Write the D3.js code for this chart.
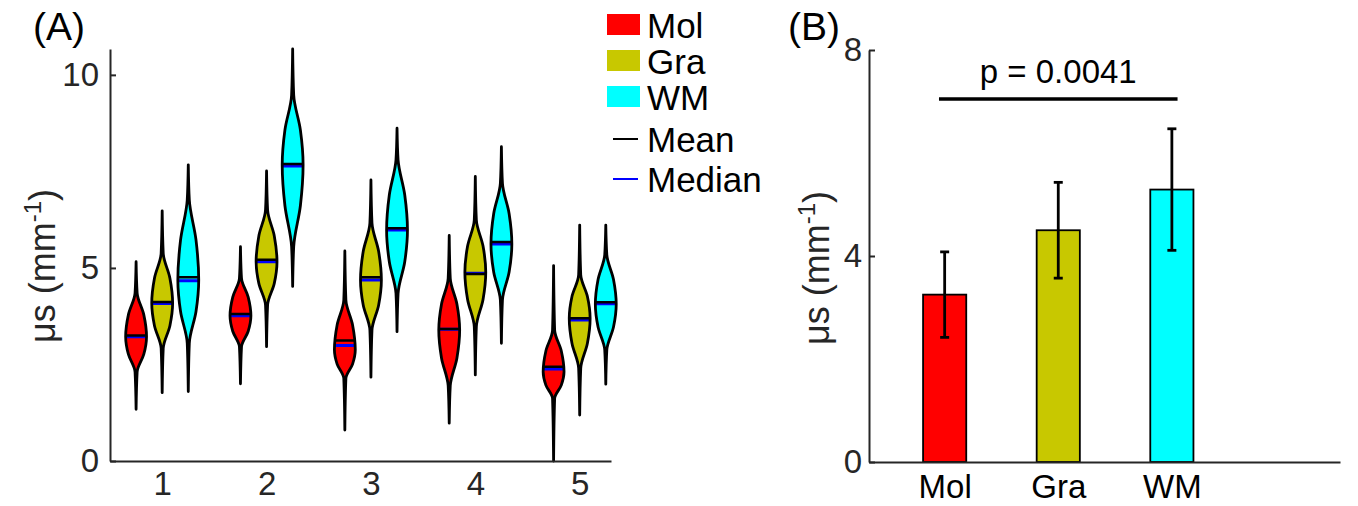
<!DOCTYPE html>
<html lang="en">
<head>
<meta charset="UTF-8">
<title>mu_s violins and bars</title>
<script src="https://cdn.jsdelivr.net/npm/d3@7"></script>
<style>
  body { margin: 0; background: #fff; }
  svg { display: block; font-family: "Liberation Sans", Arial, sans-serif; }
</style>
</head>
<body>
<div id="chart"></div>
<script>
// ---- data ----
const groups = [1, 2, 3, 4, 5];
const tissues = ["Mol", "Gra", "WM"];
const colors = ["#ff0000", "#c8c800", "#00ffff"];

// violin outlines per tissue: tail min, body bottom, widest point, body top, tail max
const violinMin = [
  [1.34, 2.00, 0.80, 0.98, 0.00],
  [1.77, 2.96, 2.17, 2.23, 1.19],
  [1.80, 4.52, 3.35, 3.05, 1.99]
];
const violinLo = [
  [2.31, 2.96, 2.14, 1.95, 1.62],
  [2.92, 4.04, 3.39, 3.48, 2.40],
  [3.05, 5.55, 4.34, 4.17, 2.88]
];
const violinPeak = [
  [3.22, 3.76, 2.88, 3.39, 2.31],
  [4.09, 5.16, 4.69, 4.89, 3.70],
  [4.69, 7.67, 5.98, 5.62, 4.06]
];
const violinHi = [
  [4.35, 4.73, 4.17, 4.73, 3.39],
  [5.38, 6.50, 6.16, 6.24, 4.82],
  [6.76, 9.48, 7.80, 7.19, 5.34]
];
const violinMax = [
  [5.16, 5.55, 5.44, 5.84, 5.06],
  [6.48, 7.51, 7.28, 7.37, 6.11],
  [7.67, 10.67, 8.62, 8.14, 6.11]
];
const violinMean = [
  [3.25, 3.81, 3.12, 3.42, 2.44],
  [4.12, 5.21, 4.76, 4.84, 3.70],
  [4.76, 7.69, 6.03, 5.67, 4.11]
];
const violinMedian = [
  [3.22, 3.76, 2.99, 3.41, 2.38],
  [4.08, 5.16, 4.69, 4.86, 3.65],
  [4.67, 7.64, 5.98, 5.62, 4.07]
];

// panel B
const barMeans = [3.25, 4.50, 5.29];
const barSD = [0.83, 0.93, 1.18];
const pText = "p = 0.0041";
const pLevel = 7.05;

const yTicksA = [0, 5, 10];
const yTicksB = [0, 4, 8];

// ---- layout ----
const W = 1358, H = 506;
const axisColor = "#262626";
const fontSize = 33;

const svg = d3.select("#chart").append("svg")
  .attr("width", W).attr("height", H)
  .attr("viewBox", [0, 0, W, H]);

// ===== Panel A =====
const xA = d3.scaleLinear().domain([0.5, 5.3]).range([110, 611]);
const yA = d3.scaleLinear().domain([0, 10.67]).range([461, 49]);
const offsets = [-0.25, 0, 0.25];
const halfW = 0.1;

const gA = svg.append("g");

const violins = [];
tissues.forEach((t, ti) => {
  groups.forEach((g, gi) => {
    violins.push({
      ti, gi,
      cx: g + offsets[ti],
      profile: [
        [violinMin[ti][gi], 0],
        [violinLo[ti][gi], 0.1],
        [(violinLo[ti][gi] + violinPeak[ti][gi]) / 2, 0.74],
        [violinPeak[ti][gi], 1],
        [(violinHi[ti][gi] + violinPeak[ti][gi]) / 2, 0.74],
        [violinHi[ti][gi], 0.1],
        [violinMax[ti][gi], 0]
      ],
      mean: violinMean[ti][gi],
      median: violinMedian[ti][gi]
    });
  });
});

const area = d3.area()
  .curve(d3.curveMonotoneY)
  .y(d => yA(d[0]));

const defs = svg.append("defs");
violins.forEach((v, i) => {
  const a = area
    .x0(d => xA(v.cx - halfW * d[1]))
    .x1(d => xA(v.cx + halfW * d[1]));
  v.path = a(v.profile);
  defs.append("clipPath").attr("id", "vclip" + i)
    .append("path").attr("d", v.path);
});

const vg = gA.append("g").selectAll("g")
  .data(violins)
  .join("g");

vg.append("path")
  .attr("d", d => d.path)
  .attr("fill", d => colors[d.ti]);

vg.append("line")
  .attr("clip-path", (d, i) => `url(#vclip${i})`)
  .attr("x1", d => xA(d.cx - 0.15)).attr("x2", d => xA(d.cx + 0.15))
  .attr("y1", d => yA(d.median)).attr("y2", d => yA(d.median))
  .attr("stroke", "#0000ff").attr("stroke-width", 3);

vg.append("line")
  .attr("clip-path", (d, i) => `url(#vclip${i})`)
  .attr("x1", d => xA(d.cx - 0.15)).attr("x2", d => xA(d.cx + 0.15))
  .attr("y1", d => yA(d.mean)).attr("y2", d => yA(d.mean))
  .attr("stroke", "#000").attr("stroke-width", 2.5);

vg.append("path")
  .attr("d", d => d.path)
  .attr("fill", "none")
  .attr("stroke", "#000")
  .attr("stroke-width", 2.8)
  .attr("stroke-linejoin", "round");

// axes A
const axAy = gA.append("g")
  .attr("transform", `translate(${xA.range()[0]},0)`)
  .call(d3.axisLeft(yA).tickValues(yTicksA).tickSizeInner(-6).tickSizeOuter(0).tickPadding(11));
const axAx = gA.append("g")
  .attr("transform", `translate(0,${yA(0)})`)
  .call(d3.axisBottom(xA).tickValues(groups).tickSizeInner(0).tickSizeOuter(0).tickPadding(11).tickFormat(d3.format("d")));

[axAy, axAx].forEach(ax => {
  ax.select(".domain").attr("stroke", axisColor).attr("stroke-width", 2);
  ax.selectAll(".tick line").attr("stroke", axisColor).attr("stroke-width", 2);
  ax.selectAll(".tick text").attr("fill", axisColor).attr("font-size", fontSize)
    .attr("font-family", "Liberation Sans, Arial, sans-serif");
});

// y title
function yTitle(g, x, y) {
  const t = g.append("text")
    .attr("transform", `translate(${x},${y}) rotate(-90)`)
    .attr("text-anchor", "middle")
    .attr("font-size", 36)
    .attr("fill", axisColor);
  t.append("tspan").text("\u03bcs (mm");
  t.append("tspan").attr("dy", -14).attr("font-size", 24).text("-1");
  t.append("tspan").attr("dy", 14).text(")");
}
yTitle(gA, 55, 266);

gA.append("text").attr("x", 33).attr("y", 40)
  .attr("font-size", 39).attr("fill", "#000").text("(A)");

// legend
const legend = gA.append("g");
const patchRows = [24.5, 60.5, 96.5];
tissues.forEach((t, i) => {
  legend.append("rect")
    .attr("x", 607).attr("y", patchRows[i] - 10.5)
    .attr("width", 33).attr("height", 21)
    .attr("fill", colors[i]);
  legend.append("text")
    .attr("x", 647).attr("y", patchRows[i] + 13.5)
    .attr("font-size", 35).attr("fill", "#000").text(t);
});
const lineRows = [{ label: "Mean", c: "#000", y: 139 }, { label: "Median", c: "#0000ff", y: 179 }];
lineRows.forEach(r => {
  legend.append("line")
    .attr("x1", 613).attr("x2", 638).attr("y1", r.y).attr("y2", r.y)
    .attr("stroke", r.c).attr("stroke-width", 2);
  legend.append("text")
    .attr("x", 647).attr("y", r.y + 13)
    .attr("font-size", 35).attr("fill", "#000").text(r.label);
});

// ===== Panel B =====
const xB = d3.scaleLinear().domain([0.334, 4.48]).range([869, 1340]);
const yB = d3.scaleLinear().domain([0, 8]).range([462, 50]);
const barHalf = 0.19;
const gB = svg.append("g");

const bars = tissues.map((t, i) => ({ t, i, x: i + 1, m: barMeans[i], sd: barSD[i] }));

gB.selectAll("rect.bar")
  .data(bars)
  .join("rect")
  .attr("class", "bar")
  .attr("x", d => xB(d.x - barHalf))
  .attr("width", d => xB(d.x + barHalf) - xB(d.x - barHalf))
  .attr("y", d => yB(d.m))
  .attr("height", d => yB(0) - yB(d.m))
  .attr("fill", d => colors[d.i])
  .attr("stroke", "#000").attr("stroke-width", 1.8);

const eb = gB.append("g").selectAll("g").data(bars).join("g")
  .attr("stroke", "#000").attr("stroke-width", 2.8);
eb.append("line")
  .attr("x1", d => xB(d.x)).attr("x2", d => xB(d.x))
  .attr("y1", d => yB(d.m - d.sd)).attr("y2", d => yB(d.m + d.sd));
eb.append("line")
  .attr("x1", d => xB(d.x) - 4.5).attr("x2", d => xB(d.x) + 4.5)
  .attr("y1", d => yB(d.m + d.sd)).attr("y2", d => yB(d.m + d.sd));
eb.append("line")
  .attr("x1", d => xB(d.x) - 4.5).attr("x2", d => xB(d.x) + 4.5)
  .attr("y1", d => yB(d.m - d.sd)).attr("y2", d => yB(d.m - d.sd));

// significance bar
gB.append("line")
  .attr("x1", xB(0.95)).attr("x2", xB(3.05))
  .attr("y1", yB(pLevel)).attr("y2", yB(pLevel))
  .attr("stroke", "#000").attr("stroke-width", 3.5);
gB.append("text")
  .attr("x", xB(2)).attr("y", 83)
  .attr("text-anchor", "middle")
  .attr("font-size", fontSize).attr("fill", "#000").text(pText);

const axBy = gB.append("g")
  .attr("transform", `translate(${xB.range()[0]},0)`)
  .call(d3.axisLeft(yB).tickValues(yTicksB).tickSizeInner(-6).tickSizeOuter(0).tickPadding(7));
const axBx = gB.append("g")
  .attr("transform", `translate(0,${yB(0)})`)
  .call(d3.axisBottom(xB).tickValues([1, 2, 3]).tickSizeInner(0).tickSizeOuter(0).tickPadding(13)
    .tickFormat((d, i) => tissues[i]));

[axBy, axBx].forEach(ax => {
  ax.select(".domain").attr("stroke", axisColor).attr("stroke-width", 2);
  ax.selectAll(".tick line").attr("stroke", axisColor).attr("stroke-width", 2);
  ax.selectAll(".tick text").attr("fill", axisColor).attr("font-size", fontSize)
    .attr("font-family", "Liberation Sans, Arial, sans-serif");
});
axBx.selectAll(".tick text").attr("fill", "#000");

yTitle(gB, 829, 268);

gB.append("text").attr("x", 788).attr("y", 40)
  .attr("font-size", 39).attr("fill", "#000").text("(B)");
</script>
</body>
</html>
